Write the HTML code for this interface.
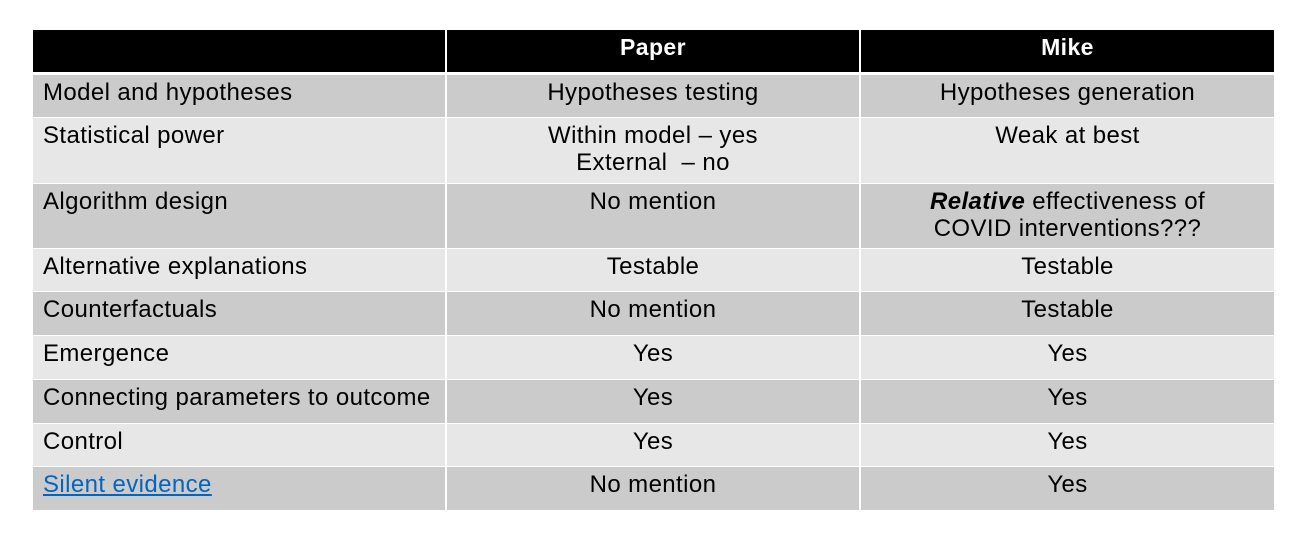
<!DOCTYPE html>
<html><head><style>
body{margin:0;width:1301px;height:534px;background:#fff;position:relative;overflow:hidden;font-family:"Liberation Sans",sans-serif;}
.c{position:absolute;box-sizing:border-box;font-size:24px;line-height:27px;padding-top:4px;color:#000;letter-spacing:0.4px;}
.l{padding-left:10px;}
.m{text-align:center;}
.h{background:#000;color:#fff;font-weight:bold;text-align:center;padding-top:4px;font-size:23px;}
a{color:#0563c1;text-decoration:underline;}
</style></head><body>
<div class="c h" style="left:33px;top:30px;width:412px;height:42px"></div>
<div class="c h" style="left:447px;top:30px;width:412px;height:42px">Paper</div>
<div class="c h" style="left:861px;top:30px;width:413px;height:42px">Mike</div>

<div class="c l" style="left:33px;top:75px;width:412px;height:42px;background:#cbcbcb">Model and hypotheses</div>
<div class="c m" style="left:447px;top:75px;width:412px;height:42px;background:#cbcbcb">Hypotheses testing</div>
<div class="c m" style="left:861px;top:75px;width:413px;height:42px;background:#cbcbcb">Hypotheses generation</div>

<div class="c l" style="left:33px;top:118px;width:412px;height:65px;background:#e7e7e7">Statistical power</div>
<div class="c m" style="left:447px;top:118px;width:412px;height:65px;background:#e7e7e7">Within model – yes<br>External &nbsp;– no</div>
<div class="c m" style="left:861px;top:118px;width:413px;height:65px;background:#e7e7e7">Weak at best</div>

<div class="c l" style="left:33px;top:184px;width:412px;height:64px;background:#cbcbcb">Algorithm design</div>
<div class="c m" style="left:447px;top:184px;width:412px;height:64px;background:#cbcbcb">No mention</div>
<div class="c m" style="left:861px;top:184px;width:413px;height:64px;background:#cbcbcb"><b><i>Relative</i></b> effectiveness of<br>COVID interventions???</div>

<div class="c l" style="left:33px;top:249px;width:412px;height:42px;background:#e7e7e7">Alternative explanations</div>
<div class="c m" style="left:447px;top:249px;width:412px;height:42px;background:#e7e7e7">Testable</div>
<div class="c m" style="left:861px;top:249px;width:413px;height:42px;background:#e7e7e7">Testable</div>

<div class="c l" style="left:33px;top:292px;width:412px;height:43px;background:#cbcbcb">Counterfactuals</div>
<div class="c m" style="left:447px;top:292px;width:412px;height:43px;background:#cbcbcb">No mention</div>
<div class="c m" style="left:861px;top:292px;width:413px;height:43px;background:#cbcbcb">Testable</div>

<div class="c l" style="left:33px;top:336px;width:412px;height:43px;background:#e7e7e7">Emergence</div>
<div class="c m" style="left:447px;top:336px;width:412px;height:43px;background:#e7e7e7">Yes</div>
<div class="c m" style="left:861px;top:336px;width:413px;height:43px;background:#e7e7e7">Yes</div>

<div class="c l" style="left:33px;top:380px;width:412px;height:43px;background:#cbcbcb">Connecting parameters to outcome</div>
<div class="c m" style="left:447px;top:380px;width:412px;height:43px;background:#cbcbcb">Yes</div>
<div class="c m" style="left:861px;top:380px;width:413px;height:43px;background:#cbcbcb">Yes</div>

<div class="c l" style="left:33px;top:424px;width:412px;height:42px;background:#e7e7e7">Control</div>
<div class="c m" style="left:447px;top:424px;width:412px;height:42px;background:#e7e7e7">Yes</div>
<div class="c m" style="left:861px;top:424px;width:413px;height:42px;background:#e7e7e7">Yes</div>

<div class="c l" style="left:33px;top:467px;width:412px;height:43px;background:#cbcbcb"><a>Silent evidence</a></div>
<div class="c m" style="left:447px;top:467px;width:412px;height:43px;background:#cbcbcb">No mention</div>
<div class="c m" style="left:861px;top:467px;width:413px;height:43px;background:#cbcbcb">Yes</div>
</body></html>
